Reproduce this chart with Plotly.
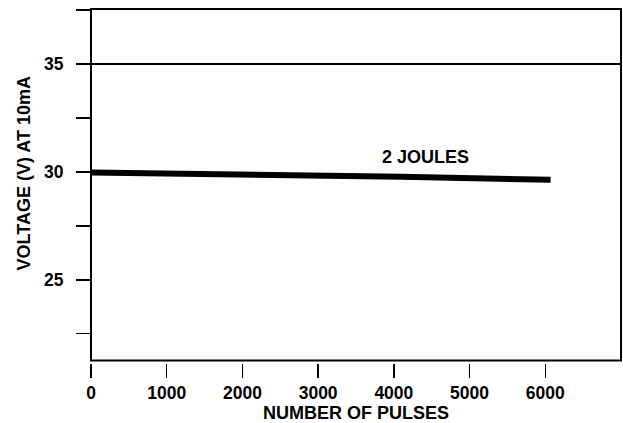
import plotly.graph_objects as go

# Data
pulses = [0, 800, 4100, 6070]
voltage = [29.97, 29.94, 29.77, 29.64]
series_label = "2 JOULES"
label_x, label_y = 4420, 30.69

x_tickvals = [0, 1000, 2000, 3000, 4000, 5000, 6000]
x_ticktext = ["0", "1000", "2000", "3000", "4000", "5000", "6000"]
y_tickvals = [22.5, 25, 27.5, 30, 32.5, 35, 37.5]
y_ticktext = ["", "25", "", "30", "", "35", ""]
ref_line_y = 35

FONT = "Liberation Sans, Arial, Helvetica, sans-serif"

fig = go.Figure()
fig.add_trace(go.Scatter(x=pulses, y=voltage, mode="lines",
                         line=dict(color="black", width=6), showlegend=False,
                         hoverinfo="skip"))

fig.update_layout(
    width=623, height=423,
    margin=dict(l=91, r=2, t=9, b=60),
    paper_bgcolor="white", plot_bgcolor="white",
    font=dict(family=FONT, color="black", size=17.5),
    xaxis=dict(range=[0, 7000], anchor="free", position=0,
               tickvals=x_tickvals, ticktext=x_ticktext,
               ticks="outside", ticklen=14, tickwidth=1.5, tickcolor="black",
               showline=False, showgrid=False, zeroline=False,
               tickfont=dict(family=FONT, size=17.5, weight="bold", color="black")),
    yaxis=dict(range=[21.26, 37.55], domain=[0.00706, 1],
               tickvals=y_tickvals, ticktext=y_ticktext,
               ticks="outside", ticklen=14, tickwidth=1.5, tickcolor="black",
               showline=False, showgrid=False, zeroline=False,
               ticklabelstandoff=9,
               tickfont=dict(family=FONT, size=17.5, weight="bold", color="black")),
    shapes=[
        dict(type="rect", xref="x domain", yref="y domain", x0=0, x1=1, y0=0, y1=1,
             line=dict(color="black", width=2), layer="above"),
        dict(type="line", xref="x domain", yref="y", x0=0, x1=1,
             y0=ref_line_y, y1=ref_line_y, line=dict(color="black", width=1.8)),
    ],
    annotations=[
        dict(text=series_label, x=label_x, y=label_y, xref="x", yref="y",
             showarrow=False, font=dict(family=FONT, size=18, weight="bold")),
        dict(text="NUMBER OF PULSES", x=0.5, y=-0.1404, xref="paper", yref="paper",
             showarrow=False, xanchor="center", yanchor="middle",
             font=dict(family=FONT, size=18, weight="bold")),
        dict(text="VOLTAGE (V) AT 10mA", x=-0.1264, y=0.5356, xref="paper", yref="paper",
             showarrow=False, xanchor="center", yanchor="middle", textangle=-90,
             font=dict(family=FONT, size=18, weight="bold")),
    ],
)

fig.write_html("out.html",
               config={"displayModeBar": False, "staticPlot": True},
               post_script="document.body.style.margin='0';document.body.style.overflow='hidden';")
